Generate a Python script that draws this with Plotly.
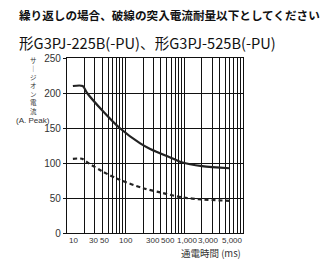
import math
import plotly.graph_objects as go

# Data
solid_t = [12.6, 18.5, 22, 40, 79, 177, 262, 650, 900, 2000, 5900]
solid_a = [210, 210, 200, 175, 150, 128, 120, 106, 101, 95.5, 92.5]
dash_t = [12.6, 18, 23, 40, 79, 200, 390, 900, 2000, 5900]
dash_a = [106, 106, 100, 88, 76, 64, 58, 51, 48, 46]

x_ticks = [10, 30, 50, 100, 300, 500, 1000, 3000, 5000]
x_ticktext = ["10", "30", "50", "100", "300", "500", "1,000", "3,000", "5,000"]
x_minor = [20, 40, 60, 70, 80, 90, 200, 400, 600, 700, 800, 900,
           2000, 4000, 6000, 7000, 8000, 9000]
y_ticks = [0, 50, 100, 150, 200, 250]

title1 = "繰り返しの場合、破線の突入電流耐量以下としてください"
title2 = "形G3PJ-225B(-PU)、形G3PJ-525B(-PU)"
y_title = "サ<br>｜<br>ジ<br>オ<br>ン<br>電<br>流"
y_unit = "(A. Peak)"
x_title = "通電時間 (ms)"

# pixel nudges of the x tick labels, as placed in the reference (style only)
x_label_nudge = [6, -1, -4, 0, -1, 1, 3, -4, 7]

SANS = "Liberation Sans, Arial, sans-serif"
JP = "Noto Sans CJK JP"
INK = "#222222"

fig = go.Figure()
fig.add_trace(go.Scatter(x=solid_t, y=solid_a, mode="lines",
                         line=dict(color=INK, width=2.2, shape="spline", smoothing=0.8),
                         showlegend=False, hoverinfo="skip"))
fig.add_trace(go.Scatter(x=dash_t, y=dash_a, mode="lines",
                         line=dict(color=INK, width=2.2, dash="4px,3px", shape="spline", smoothing=0.8),
                         showlegend=False, hoverinfo="skip"))

annotations = [
    dict(text="<b>" + title1 + "</b>", xref="paper", yref="paper", x=-50/176, y=1 + 43/175,
         xanchor="left", yanchor="middle", showarrow=False,
         font=dict(family=JP, size=11.6, color="#111")),
    dict(text=title2, xref="paper", yref="paper", x=-50/176, y=1 + 16/175,
         xanchor="left", yanchor="middle", showarrow=False,
         font=dict(family=JP, size=14.6, color="#111")),
    dict(text=y_title, xref="paper", yref="paper", x=-34/176, y=1 + 5/175,
         xanchor="center", yanchor="top", showarrow=False,
         font=dict(family=JP, size=6.5, color="#333")),
    dict(text=y_unit, xref="paper", yref="paper", x=-34/176, y=1 - 62/175,
         xanchor="center", yanchor="middle", showarrow=False,
         font=dict(family=SANS, size=8, color="#333")),
    dict(text=x_title, xref="paper", yref="paper", x=1.0, y=-20/175,
         xanchor="right", yanchor="middle", showarrow=False,
         font=dict(family=JP, size=9.5, color="#333")),
]
for v, t, dx in zip(x_ticks, x_ticktext, x_label_nudge):
    annotations.append(dict(text=t, xref="x", yref="paper", x=math.log10(v), y=0,
                            xanchor="center", yanchor="top", yshift=-1, xshift=dx,
                            showarrow=False,
                            font=dict(family=SANS, size=8, color="#333")))

fig.update_layout(
    width=336, height=269,
    margin=dict(l=67, r=93, t=58, b=36),
    paper_bgcolor="white", plot_bgcolor="white",
    xaxis=dict(type="log", range=[1, 4], tickmode="array", tickvals=x_ticks,
               ticktext=x_ticktext, showticklabels=False, showgrid=True,
               gridcolor="#111", gridwidth=1,
               zeroline=False, showline=True, linecolor="#111", linewidth=1.2, mirror=True,
               ticks="",
               minor=dict(tickvals=x_minor, showgrid=True, gridcolor="#111", gridwidth=1, ticks="")),
    yaxis=dict(range=[0, 250], tickmode="array", tickvals=y_ticks, showgrid=True,
               gridcolor="#111", gridwidth=1, zeroline=False, showline=True,
               linecolor="#111", linewidth=1.2, mirror=True, ticks="outside", ticklen=3,
               tickcolor="#111", tickfont=dict(family=SANS, size=10, color="#333")),
    annotations=annotations,
)

fig.write_html("out.html")
